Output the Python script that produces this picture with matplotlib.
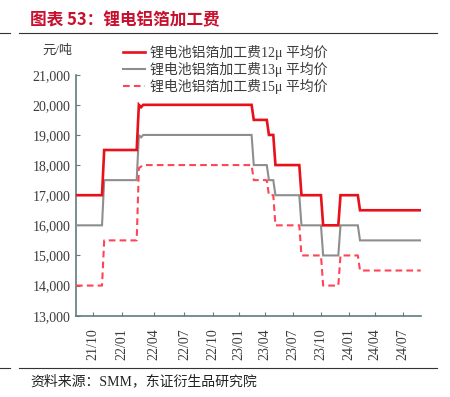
import matplotlib
matplotlib.use("Agg")
import matplotlib.pyplot as plt
from matplotlib.lines import Line2D

# ---------------- data (weekly index axis) ----------------
tick_idx = [8, 21, 36, 50, 63, 75, 87, 100, 113, 126, 138, 151]
tick_labels = ['21/10', '22/01', '22/04', '22/07', '22/10', '23/01',
               '23/04', '23/07', '23/10', '24/01', '24/04', '24/07']

red_x = [0, 12, 13, 28, 29, 30, 31, 81, 82, 88, 89, 91, 92, 103, 104, 113, 114, 121, 122, 130, 131, 159]
red_y = [17000, 17000, 18500, 18500, 20000, 19920, 20000, 20000, 19500, 19500, 19000, 19000,
         18000, 18000, 17000, 17000, 16000, 16000, 17000, 17000, 16500, 16500]

gray_x = [0, 12, 13, 28, 29, 30, 31, 81, 82, 88, 89, 91, 92, 103, 104, 113, 114, 121, 122, 130, 131, 159]
gray_y = [16000, 16000, 17500, 17500, 19000, 18920, 19000, 19000, 18000, 18000, 17500, 17500,
          17000, 17000, 16000, 16000, 15000, 15000, 16000, 16000, 15500, 15500]

dash_x = [0, 12, 13, 28, 29, 31, 81, 82, 88, 89, 91, 92, 103, 104, 113, 114, 121, 122, 130, 131, 159]
dash_y = [14000, 14000, 15500, 15500, 17900, 18000, 18000, 17500, 17500, 17000, 17000, 16000,
          16000, 15000, 15000, 14000, 14000, 15000, 15000, 14500, 14500]

series_names = ['锂电池铝箔加工费12μ 平均价', '锂电池铝箔加工费13μ 平均价', '锂电池铝箔加工费15μ 平均价']
yticks = [13000, 14000, 15000, 16000, 17000, 18000, 19000, 20000, 21000]

# ---------------- style ----------------
MIX = ['Liberation Serif', 'Noto Sans CJK SC']
CJK = ['Noto Sans CJK SC']
RED = '#e8101a'
GRAY = '#8e8e8e'
PINK = '#ff4455'
SPINE = '#5f7d7d'
TXT = '#3c3c3c'

W, H = 450, 397
fig = plt.figure(figsize=(W / 100, H / 100), dpi=100)

def px(x0, y0, x1, y1):
    return [x0 / W, 1 - y1 / H, (x1 - x0) / W, (y1 - y0) / H]

ax = fig.add_axes(px(76, 74.7, 420.7, 315.7))

ax.plot(red_x, red_y, color=RED, lw=1.9, solid_joinstyle='miter', zorder=4)
ax.plot(gray_x, gray_y, color=GRAY, lw=1.5, solid_joinstyle='miter', zorder=3)
ax.plot(dash_x, dash_y, color=PINK, lw=1.5, dashes=(3.2, 2.0), zorder=3)

ax.set_xlim(0, 159)
ax.set_ylim(13000, 21000)
ax.set_yticks(yticks)
ax.set_yticklabels([f'{v:,}' for v in yticks], family=MIX, fontsize=10, color=TXT)
ax.set_xticks(tick_idx)
ax.set_xticklabels(tick_labels, rotation=90, family=MIX, fontsize=10, color=TXT)
ax.tick_params(axis='both', direction='in', length=3, width=0.8, color=SPINE, pad=4)
ax.tick_params(axis='x', pad=9)

for s in ['top', 'right']:
    ax.spines[s].set_visible(False)
for s in ['left', 'bottom']:
    ax.spines[s].set_color(SPINE)
    ax.spines[s].set_linewidth(1.2)

# legend
handles = [Line2D([], [], color=RED, lw=1.9),
           Line2D([], [], color=GRAY, lw=1.5),
           Line2D([], [], color=PINK, lw=1.5, dashes=(3.2, 2.0))]
leg = fig.legend(handles, series_names, loc='upper left',
                 bbox_to_anchor=(117 / W, 1 - 39.5 / H), frameon=False,
                 prop={'family': MIX, 'size': 10}, handlelength=1.6,
                 handletextpad=0.4, labelspacing=0.12, borderaxespad=0)
for t in leg.get_texts():
    t.set_color(TXT)

# unit label
fig.text(42 / W, 1 - 50.5 / H, '元/吨', family=MIX, fontsize=9.5, color=TXT, va='center')

# title
fig.text(30 / W, 1 - 20 / H, '图表 53：锂电铝箔加工费', family=CJK, fontsize=12,
         fontweight='bold', color='#c8102e', va='center')

# rules
for yy in (33.3, 368.3):
    fig.add_artist(Line2D([19 / W, 437 / W], [1 - yy / H, 1 - yy / H], color='#333333', lw=0.8))
    fig.add_artist(Line2D([0, 10 / W], [1 - yy / H, 1 - yy / H], color='#333333', lw=0.8))

# source
fig.text(30 / W, 1 - 381 / H, '资料来源：SMM，东证衍生品研究院', family=MIX, fontsize=10,
         color='#222222', va='center')

fig.savefig('out.png', dpi=100)
